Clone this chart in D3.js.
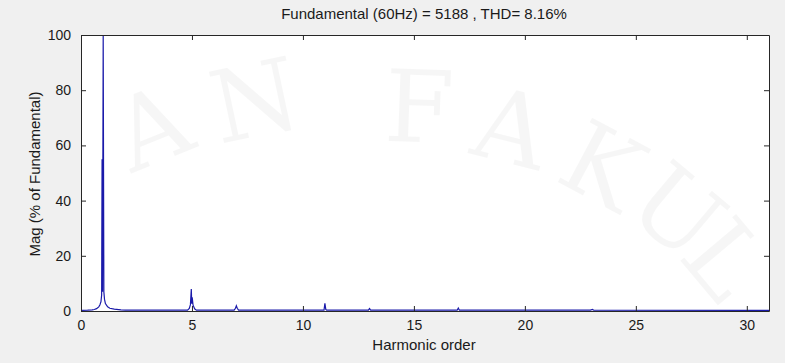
<!DOCTYPE html>
<html>
<head>
<meta charset="utf-8">
<script src="https://cdn.jsdelivr.net/npm/d3@7"></script>
<style>
  html, body { margin: 0; padding: 0; background: #f0f0f0; }
  svg { display: block; }
  text { font-family: "Liberation Sans", Arial, sans-serif; fill: #1a1a1a; }
</style>
</head>
<body>
<svg id="chart" width="785" height="363"></svg>
<script>
// Harmonic spectrum (FFT analysis), magnitude in % of the fundamental
const harmonicOrder = [
  0, 0.3, 0.5, 0.6, 0.7, 0.8, 0.85, 0.9, 0.93, 0.95, 0.97, 1.0, 1.03, 1.06, 1.1, 1.2, 1.3, 1.5, 1.7, 1.8, 2.0,
  4.8, 4.88, 4.93, 4.97, 4.99, 5.01, 5.05, 5.12, 5.2,
  6.9, 6.96, 7.0, 7.04, 7.1,
  10.95, 10.99, 11.03, 11.07,
  12.95, 13.0, 13.05,
  16.95, 17.0, 17.05,
  22.95, 23.05, 23.1,
  31
];
const magnitude = [
  0.25, 0.3, 0.4, 0.55, 0.85, 1.5, 2.2, 3.4, 5.8, 55, 7, 100, 7, 4.2, 2.7, 1.5, 1.0, 0.7, 0.5, 0.4, 0.3,
  0.3, 0.9, 2.3, 8, 2.6, 5, 2.1, 0.8, 0.3,
  0.3, 1.0, 1.9, 1.0, 0.3,
  0.3, 2.8, 0.6, 0.3,
  0.3, 0.9, 0.3,
  0.3, 1.1, 0.3,
  0.3, 0.6, 0.3,
  0.25
];
const xTicks = [0, 5, 10, 15, 20, 25, 30];
const yTicks = [0, 20, 40, 60, 80, 100];
const titleText = "Fundamental (60Hz) = 5188 , THD= 8.16%";
const xLabel = "Harmonic order";
const yLabel = "Mag (% of Fundamental)";
const watermarkLetters = ["A", "N", "F", "A", "K", "U", "L"];

const svg = d3.select("#chart");
const W = 785, H = 363;
const plot = { left: 81, right: 769, top: 35, bottom: 311 };

const x = d3.scaleLinear().domain([0, 31]).range([plot.left, plot.right]);
const y = d3.scaleLinear().domain([0, 100]).range([plot.bottom, plot.top]);

svg.append("rect").attr("width", W).attr("height", H).attr("fill", "#f0f0f0");
svg.append("rect")
  .attr("x", plot.left).attr("y", plot.top)
  .attr("width", plot.right - plot.left).attr("height", plot.bottom - plot.top)
  .attr("fill", "#ffffff");

// Spectrum trace
const pts = harmonicOrder.map((h, i) => [h, magnitude[i]]);
svg.append("path")
  .datum(pts)
  .attr("fill", "none")
  .attr("stroke", "#1a1aaa")
  .attr("stroke-width", 1.2)
  .attr("d", d3.line().x(d => x(d[0])).y(d => y(d[1])));

// Axes with inward ticks on all four sides
const axisColor = "#262626";
const tickLen = 5;
const fmt = d3.format("d");

const axBottom = svg.append("g").attr("transform", `translate(0,${plot.bottom})`)
  .call(d3.axisBottom(x).tickValues(xTicks).tickSizeInner(-tickLen).tickSizeOuter(0).tickPadding(9).tickFormat(fmt));
const axTop = svg.append("g").attr("transform", `translate(0,${plot.top})`)
  .call(d3.axisTop(x).tickValues(xTicks).tickSizeInner(-tickLen).tickSizeOuter(0).tickFormat(""));
const axLeft = svg.append("g").attr("transform", `translate(${plot.left},0)`)
  .call(d3.axisLeft(y).tickValues(yTicks).tickSizeInner(-tickLen).tickSizeOuter(0).tickPadding(10).tickFormat(fmt));
const axRight = svg.append("g").attr("transform", `translate(${plot.right},0)`)
  .call(d3.axisRight(y).tickValues(yTicks).tickSizeInner(-tickLen).tickSizeOuter(0).tickFormat(""));

[axBottom, axTop, axLeft, axRight].forEach(g => {
  g.select(".domain").attr("stroke", axisColor).attr("stroke-width", 1);
  g.selectAll(".tick line").attr("stroke", axisColor);
  g.selectAll(".tick text").attr("fill", "#1a1a1a")
    .style("font-family", '"Liberation Sans", Arial, sans-serif').style("font-size", "14px");
});

// Titles
svg.append("text").attr("x", 424).attr("y", 19).attr("text-anchor", "middle")
  .style("font-size", "15px").text(titleText);
svg.append("text").attr("x", 424).attr("y", 350).attr("text-anchor", "middle")
  .style("font-size", "15px").text(xLabel);
svg.append("text").attr("transform", "translate(40,174) rotate(-90)").attr("text-anchor", "middle")
  .style("font-size", "15px").text(yLabel);

// Faint embossed lettering across the figure
const wmPos = [
  { x: 165, y: 160, r: -22 },
  { x: 262, y: 135, r: -12 },
  { x: 418, y: 142, r: 2 },
  { x: 503, y: 162, r: 14 },
  { x: 586, y: 197, r: 28 },
  { x: 655, y: 238, r: 40 },
  { x: 698, y: 282, r: 50 }
];
svg.append("g").attr("pointer-events", "none")
  .selectAll("text")
  .data(watermarkLetters)
  .join("text")
  .attr("transform", (d, i) => `translate(${wmPos[i].x},${wmPos[i].y}) rotate(${wmPos[i].r})`)
  .attr("text-anchor", "middle")
  .style("font-family", '"DejaVu Serif", "Liberation Serif", serif')
  .style("font-size", "100px")
  .style("fill", "#000")
  .style("fill-opacity", 0.035)
  .text(d => d);
</script>
</body>
</html>
